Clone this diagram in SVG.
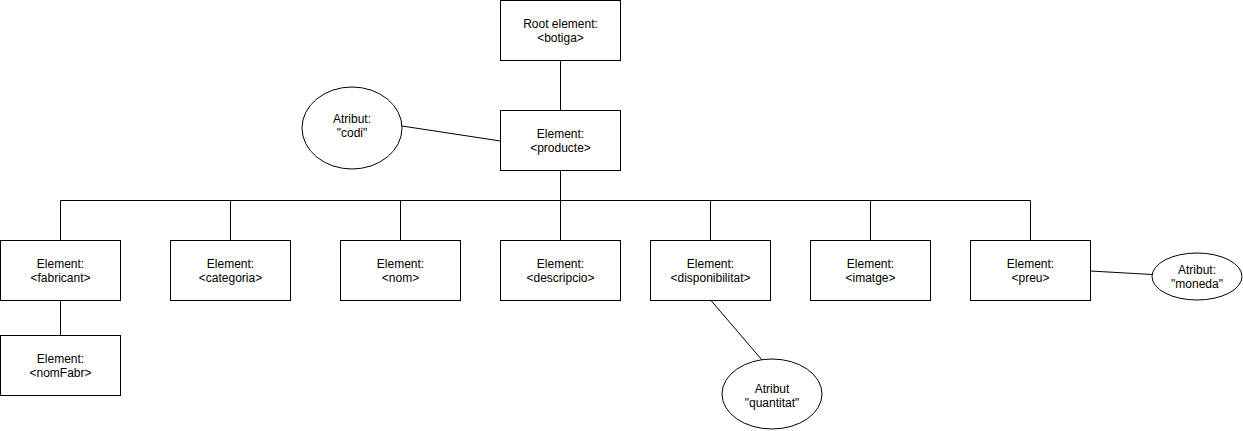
<svg xmlns="http://www.w3.org/2000/svg" width="1243" height="431" viewBox="0 0 1243 431">
<style>
.box{fill:#fff;stroke:#000;stroke-width:1}
.conn{fill:none;stroke:#000;stroke-width:1}
text{font-family:"Liberation Sans",Arial,Helvetica,sans-serif;font-size:12px;fill:#000;text-anchor:middle;dominant-baseline:central}
</style>
<rect width="1243" height="431" fill="#fff"/>
<g id="connectors">
<path class="conn" d="M560.5 60.5V110.5"/>
<path class="conn" d="M560.5 170.5V240.5"/>
<path class="conn" d="M60.5 200.5H1030.5"/>
<path class="conn" d="M60.5 200.5V240.5"/>
<path class="conn" d="M230.5 200.5V240.5"/>
<path class="conn" d="M400.5 200.5V240.5"/>
<path class="conn" d="M710.5 200.5V240.5"/>
<path class="conn" d="M870.5 200.5V240.5"/>
<path class="conn" d="M1030.5 200.5V240.5"/>
<path class="conn" d="M60.5 300.5V335.5"/>
<path class="conn" d="M402 126L500.5 141"/>
<path class="conn" d="M711 300.5L762 360"/>
<path class="conn" d="M1090.5 271L1152 274.5"/>
</g>
<g id="root"><rect class="box" x="500.5" y="0.5" width="120" height="60"/><text x="560.5" y="23.5">Root element:</text><text x="560.5" y="37.5">&lt;botiga&gt;</text></g>
<g id="producte"><rect class="box" x="500.5" y="110.5" width="120" height="60"/><text x="560.5" y="133.5">Element:</text><text x="560.5" y="147.5">&lt;producte&gt;</text></g>
<g id="codi"><ellipse class="box" cx="352" cy="128" rx="50" ry="41"/><text x="352" y="118.5">Atribut:</text><text x="352" y="132.5">"codi"</text></g>
<g id="fabricant"><rect class="box" x="0.5" y="240.5" width="120" height="60"/><text x="60.5" y="263.5">Element:</text><text x="60.5" y="277.5">&lt;fabricant&gt;</text></g>
<g id="categoria"><rect class="box" x="170.5" y="240.5" width="120" height="60"/><text x="230.5" y="263.5">Element:</text><text x="230.5" y="277.5">&lt;categoria&gt;</text></g>
<g id="nom"><rect class="box" x="340.5" y="240.5" width="120" height="60"/><text x="400.5" y="263.5">Element:</text><text x="400.5" y="277.5">&lt;nom&gt;</text></g>
<g id="descripcio"><rect class="box" x="500.5" y="240.5" width="120" height="60"/><text x="560.5" y="263.5">Element:</text><text x="560.5" y="277.5">&lt;descripcio&gt;</text></g>
<g id="disponibilitat"><rect class="box" x="650.5" y="240.5" width="120" height="60"/><text x="710.5" y="263.5">Element:</text><text x="710.5" y="277.5">&lt;disponibilitat&gt;</text></g>
<g id="imatge"><rect class="box" x="810.5" y="240.5" width="120" height="60"/><text x="870.5" y="263.5">Element:</text><text x="870.5" y="277.5">&lt;imatge&gt;</text></g>
<g id="preu"><rect class="box" x="970.5" y="240.5" width="120" height="60"/><text x="1030.5" y="263.5">Element:</text><text x="1030.5" y="277.5">&lt;preu&gt;</text></g>
<g id="nomFabr"><rect class="box" x="0.5" y="335.5" width="120" height="60"/><text x="60.5" y="358.5">Element:</text><text x="60.5" y="372.5">&lt;nomFabr&gt;</text></g>
<g id="quantitat"><ellipse class="box" cx="772" cy="394" rx="50" ry="35"/><text x="772" y="389">Atribut</text><text x="772" y="403">"quantitat"</text></g>
<g id="moneda"><ellipse class="box" cx="1197" cy="276.5" rx="45" ry="23.5"/><text x="1197" y="269.5">Atribut:</text><text x="1197" y="283.5">"moneda"</text></g>
</svg>
